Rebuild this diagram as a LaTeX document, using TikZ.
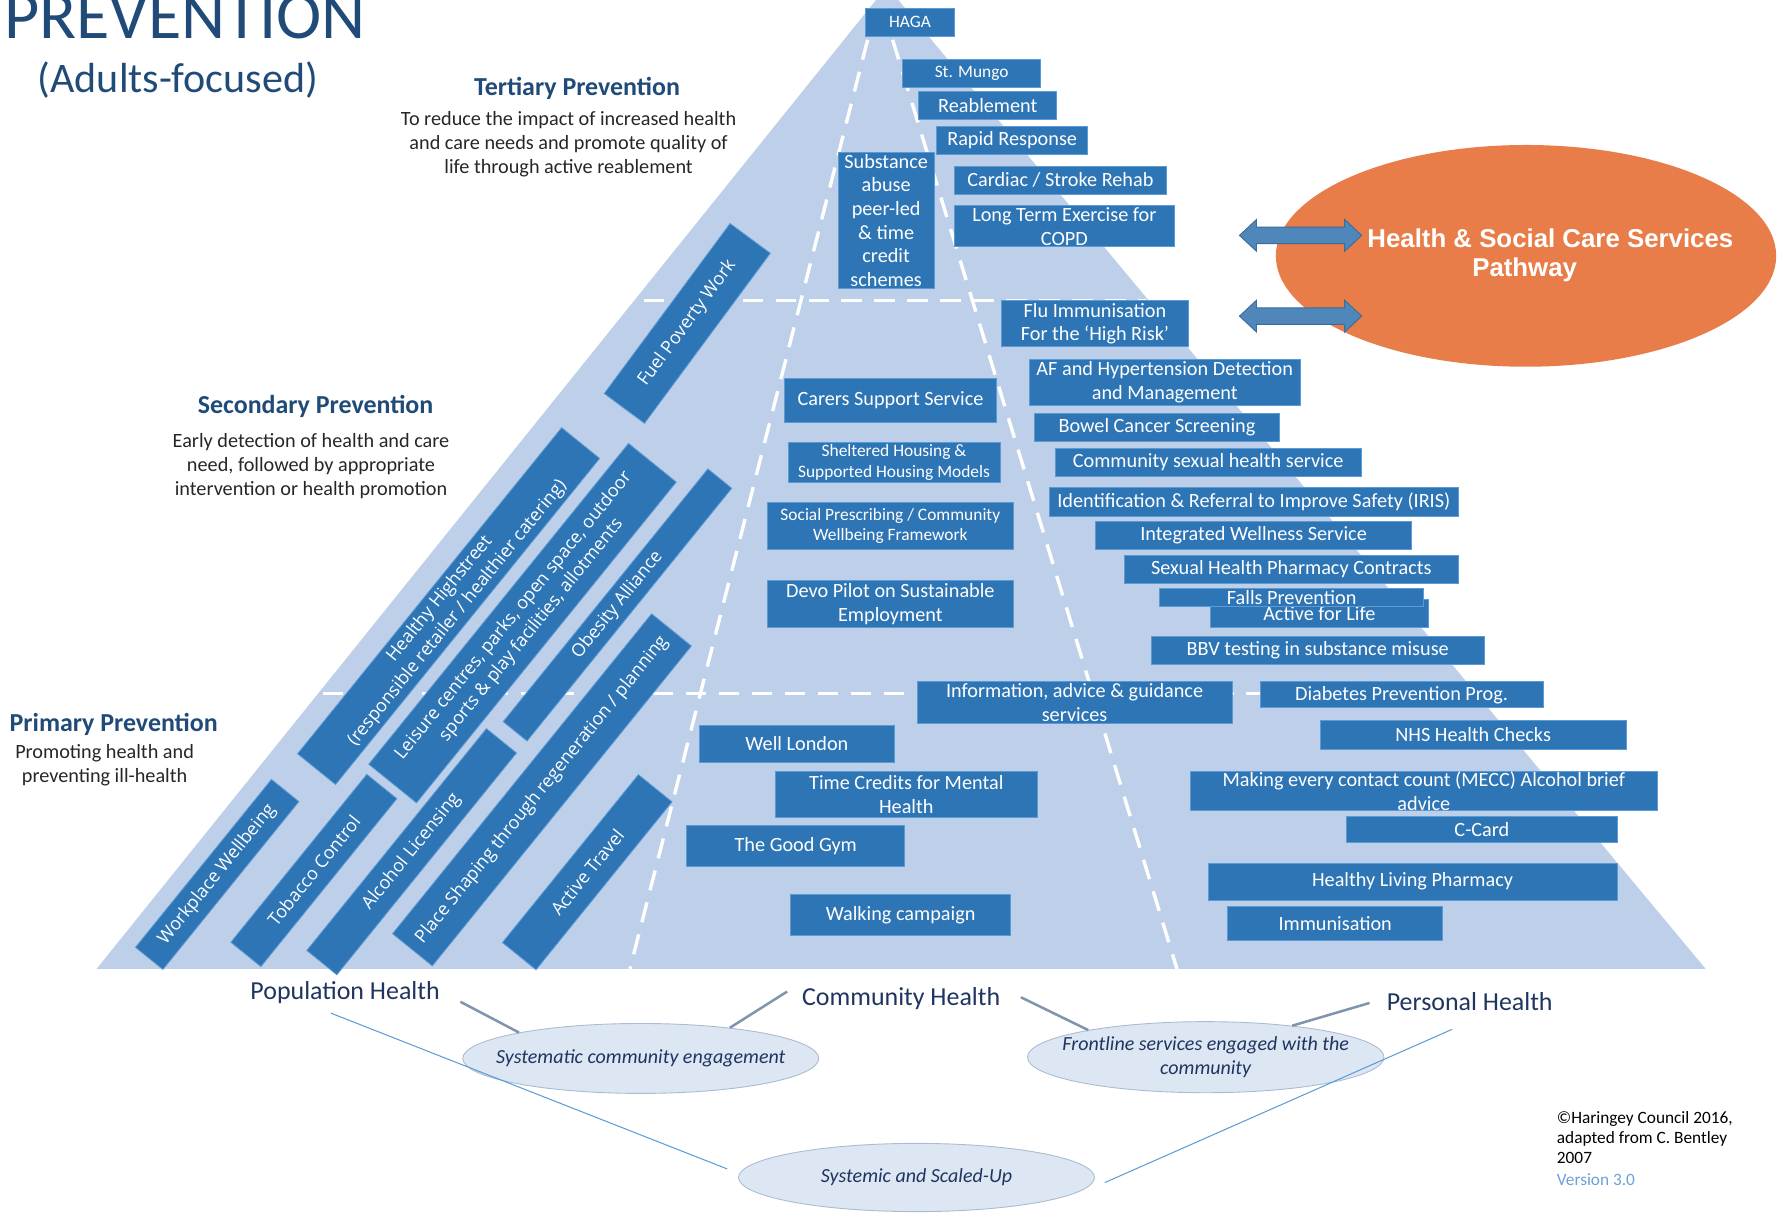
\documentclass[tikz,border=0pt]{standalone}
\usepackage{fontspec}
\setmainfont{Carlito}
\newfontfamily\opensans{Open Sans}
\newfontfamily\arialfont{Liberation Sans}
\usetikzlibrary{calc, shapes.geometric}

\definecolor{pyramid}{RGB}{189,207,233}
\definecolor{boxblue}{RGB}{46,117,182}
\definecolor{boxedge}{RGB}{91,155,213}
\definecolor{titlenavy}{RGB}{32,75,120}
\definecolor{labelnavy}{RGB}{31,52,95}
\definecolor{textdark}{RGB}{38,38,38}
\definecolor{bubblefill}{RGB}{221,231,243}
\definecolor{bubbleedge}{RGB}{172,188,208}
\definecolor{pathorange}{RGB}{232,125,74}
\definecolor{arrowblue}{RGB}{79,135,186}
\definecolor{arrowedge}{RGB}{60,108,152}
\definecolor{linkgrey}{RGB}{128,148,174}
\definecolor{thinblue}{RGB}{91,155,213}
\definecolor{versionblue}{RGB}{108,160,214}

\newcommand\fntbox{\fontsize{17.8}{21}\selectfont}
\newcommand\fntsmall{\fontsize{15.3}{18}\selectfont}
\newcommand\fntrot{\opensans\fontsize{15.8}{20}\selectfont}
\newcommand\fnthead{\bfseries\fontsize{22.8}{27}\selectfont}
\newcommand\fntdesc{\fontsize{17.8}{21.2}\selectfont}
\newcommand\fntlabel{\fontsize{22.8}{27}\selectfont}
\newcommand\fntbubble{\itshape\fontsize{17.6}{21.4}\selectfont}
\newcommand\fntpath{\arialfont\bfseries\fontsize{22.7}{27.5}\selectfont}
\newcommand\fntnote{\fontsize{15.2}{17.5}\selectfont}

\begin{document}
\begin{tikzpicture}[
  x=1pt, y=-1pt,
  sz/.style 2 args={minimum width=#1pt, minimum height=#2pt},
  box/.style={draw=boxedge, line width=0.7pt, fill=boxblue, text=white,
    inner sep=0pt, align=center, font=\fntbox},
  smallbox/.style={box, font=\fntsmall},
  rbox/.style={box, font=\fntrot},
  dashline/.style={white, line width=3pt, dash pattern=on 18pt off 11pt},
  heading/.style={inner sep=0pt, text=titlenavy, font=\fnthead},
  desc/.style={inner sep=0pt, text=textdark, align=center, font=\fntdesc},
  lbl/.style={inner sep=0pt, text=labelnavy, font=\fntlabel},
  bubble/.style={ellipse, fill=bubblefill, draw=bubbleedge, line width=0.8pt, inner sep=0pt},
  bubbletext/.style={inner sep=0pt, text=labelnavy, align=center, font=\fntbubble},
  pathway/.style={ellipse, fill=pathorange, inner sep=0pt},
  pathtext/.style={inner sep=0pt, text=white, font=\fntpath},
  dblarrow/.style={fill=arrowblue, draw=arrowedge, line width=0.8pt},
  link/.style={linkgrey, line width=2.2pt},
  thinlink/.style={thinblue, line width=0.9pt}
]
\useasboundingbox (0,0) rectangle (1568,1066);

% pyramid and its level / column guides
\fill[pyramid] (85,852) -- (780,-12) -- (1500,852) -- cycle;
\draw[dashline] (566,264) -- (1008,264);
\draw[dashline] (284,609.7) -- (1296,609.7);
\draw[dashline] (763,35) -- (554,852);
\draw[dashline] (785,35) -- (1035,852);

% title
\node[anchor=base west, inner sep=0pt, text=titlenavy, font=\fontsize{60}{60}\selectfont] (title) at (3.5,34) {PREVENTION};
\node[inner sep=0pt, text=titlenavy, font=\fontsize{37}{40}\selectfont] (subtitle) at (156.5,70) {(Adults-focused)};

% level headings
\node[heading] (tert) at (507.5,78) {Tertiary Prevention};
\node[desc] (tertdesc) at (500,126.5) {To reduce the impact of increased health\\and care needs and promote quality of\\life through active reablement};
\node[heading] (sec) at (277.5,357) {Secondary Prevention};
\node[desc] (secdesc) at (273.5,410) {Early detection of health and care\\need, followed by appropriate\\intervention or health promotion};
\node[heading] (prim) at (100,637) {Primary Prevention};
\node[desc] (primdesc) at (92,673) {Promoting health and\\preventing ill-health};

% population health column (slanted boxes)
\node[rbox, rotate=53.5, sz={186}{44}] (fuel) at (604.4,284.4) {Fuel Poverty Work};
\node[rbox, rotate=51, sz={369}{43}] (highstreet) at (394.5,533) {Healthy Highstreet\\(responsible retailer / healthier catering)};
\node[rbox, rotate=51, sz={363}{54}] (leisure) at (459.5,548) {Leisure centres, parks, open space, outdoor\\sports \& play facilities, allotments};
\node[rbox, rotate=51, sz={286}{27}] (obesity) at (543,532) {Obesity Alliance};
\node[rbox, rotate=51, sz={190}{31}] (workplace) at (191,769) {Workplace Wellbeing};
\node[rbox, rotate=51, sz={190}{34}] (tobacco) at (276,765.5) {Tobacco Control};
\node[rbox, rotate=51, sz={251}{34}] (alcohol) at (362,749) {Alcohol Licensing};
\node[rbox, rotate=51, sz={362}{45}] (placeshaping) at (476.6,694.6) {Place Shaping through regeneration / planning};
\node[rbox, rotate=51, sz={190}{38}] (activetravel) at (516.4,767) {Active Travel};

% tertiary
\node[smallbox, sz={78}{25}] (haga) at (800.3,19.7) {HAGA};
\node[smallbox, sz={121}{25}] (mungo) at (854.5,64.5) {St. Mungo};
\node[box, sz={121.4}{24.4}] (reable) at (868.7,92.8) {Reablement};
\node[box, sz={132.6}{24.6}] (rapid) at (890.1,123.1) {Rapid Response};
\node[box, sz={84.3}{119.2}, font={\fontsize{17.8}{20.8}\selectfont}] (substance) at (779.3,193.9) {Substance\\abuse\\peer-led\\\& time\\credit\\schemes};
\node[box, sz={187}{25}] (cardiac) at (932.5,158.5) {Cardiac / Stroke Rehab};
\node[box, sz={193.3}{36}] (copd) at (936,199) {Long Term Exercise for\\COPD};

% secondary
\node[box, sz={164.6}{40.5}] (flu) at (962.9,284.7) {Flu Immunisation\\For the ‘High Risk’};
\node[box, sz={238}{40.5}] (afib) at (1024.3,336) {AF and Hypertension Detection\\and Management};
\node[box, sz={185.8}{38.7}] (carers) at (783.1,351.8) {Carers Support Service};
\node[box, sz={216.2}{24.6}] (bowel) at (1017.4,375.8) {Bowel Cancer Screening};
\node[smallbox, sz={186.4}{34.8}] (sheltered) at (786.2,406.7) {Sheltered Housing \&\\Supported Housing Models};
\node[box, sz={269.6}{24.7}] (sexhealth) at (1062.5,406.5) {Community sexual health service};
\node[smallbox, sz={215.7}{41.1}] (socpres) at (783,462.6) {Social Prescribing / Community\\Wellbeing Framework};
\node[box, sz={360.2}{25.2}] (iris) at (1102.6,441.2) {Identification \& Referral to Improve Safety (IRIS)};
\node[box, sz={278.3}{24.7}] (wellness) at (1102.4,470.8) {Integrated Wellness Service};
\node[box, sz={293.2}{24.6}] (pharmacy) at (1135.6,500.7) {Sexual Health Pharmacy Contracts};
\node[box, sz={192.3}{24.7}] (activelife) at (1160.2,539.4) {Active for Life};
\node[box, sz={231.8}{16.1}] (falls) at (1135.9,525.5) {Falls Prevention};
\node[box, sz={215.7}{41.7}] (devo) at (783,530.9) {Devo Pilot on Sustainable\\Employment};
\node[box, sz={292.6}{24.6}] (bbv) at (1158.8,571.6) {BBV testing in substance misuse};

% primary
\node[box, sz={277.3}{36.6}] (info) at (945,617.8) {Information, advice \& guidance\\services};
\node[box, sz={248.9}{22.8}] (diabetes) at (1232.5,611) {Diabetes Prevention Prog.};
\node[box, sz={171.2}{33.1}] (welllondon) at (700.8,654.2) {Well London};
\node[box, sz={268.7}{24.9}] (nhs) at (1295.5,646.2) {NHS Health Checks};
\node[box, sz={231}{40.8}] (timecredits) at (797,698.4) {Time Credits for Mental\\Health};
\node[box, sz={411.3}{34.9}] (mecc) at (1252.1,695.5) {Making every contact count (MECC) Alcohol brief\\advice};
\node[box, sz={237.5}{23.2}] (ccard) at (1303.2,729.2) {C-Card};
\node[box, sz={191.7}{35.5}] (goodgym) at (699.8,743.8) {The Good Gym};
\node[box, sz={359.6}{32.3}] (hlp) at (1242.2,775.3) {Healthy Living Pharmacy};
\node[box, sz={193.1}{35.4}] (walking) at (792,804.5) {Walking campaign};
\node[box, sz={189.1}{29.6}] (immunisation) at (1174.2,812.1) {Immunisation};

% services pathway
\node[pathway, sz={440}{195}] (hsc) at (1342,225) {};
\filldraw[dblarrow] (1090,207) -- ++(15,-14) -- ++(0,6.7) -- ++(77.5,0) -- ++(0,-6.7) -- ++(15,14)
  -- ++(-15,14) -- ++(0,-6.7) -- ++(-77.5,0) -- ++(0,6.7) -- cycle;
\filldraw[dblarrow] (1090,278) -- ++(15,-14) -- ++(0,6.7) -- ++(77.5,0) -- ++(0,-6.7) -- ++(15,14)
  -- ++(-15,14) -- ++(0,-6.7) -- ++(-77.5,0) -- ++(0,6.7) -- cycle;
\node[pathtext] (hsctop) at (1363.4,209.6) {Health \& Social Care Services};
\node[pathtext] (hscbottom) at (1340.8,237.4) {Pathway};

% bottom: health levels
\node[lbl] (pop) at (303.5,873) {Population Health};
\node[lbl] (comm) at (792.5,878) {Community Health};
\node[lbl] (pers) at (1292.5,881) {Personal Health};

\node[bubble, sz={313}{61.5}, label={[bubbletext]center:Systematic community engagement}] (sce) at (563.5,930.8) {};
\node[bubble, sz={313.5}{62.5}, label={[bubbletext]center:{Frontline services engaged with the\\community}}] (fse) at (1060.3,929.7) {};
\node[bubble, sz={313}{60}, label={[bubbletext]center:Systemic and Scaled-Up}] (sys) at (806,1035.5) {};

\draw[link] ($(pop.south east)+(18,-2)$) -- (sce.168);
\draw[link] ($(comm.west)+(-13,-6)$) -- (sce.19);
\draw[link] ($(comm.east)+(18,-1)$) -- (fse.167);
\draw[link] ($(pers.west)+(-15,1)$) -- (fse.20);
\draw[thinlink] ($(pop.south)+(-12.5,8)$) -- ($(sys.west)+(-9.5,-7.5)$);
\draw[thinlink] ($(pers.south)+(-15.5,16)$) -- ($(sys.east)+(8.6,4.5)$);

% credits
\node[anchor=north west, inner sep=0pt, align=left, font=\fntnote] (credit) at (1369,977) {©Haringey Council 2016,\\adapted from C. Bentley\\2007};
\node[anchor=west, inner sep=0pt, text=versionblue, font=\fntnote] (version) at (1369,1037.7) {Version 3.0};
\end{tikzpicture}
\end{document}
